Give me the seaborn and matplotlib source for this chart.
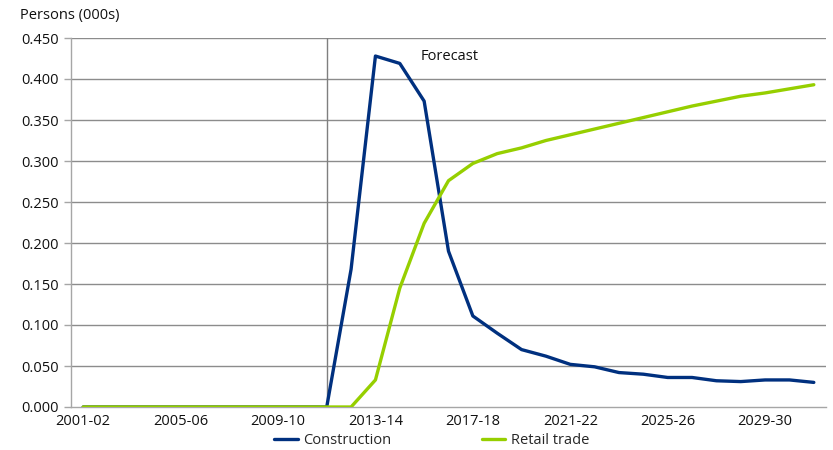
import matplotlib
matplotlib.use("Agg")
import matplotlib.pyplot as plt
import numpy as np
import pandas as pd
import seaborn as sns

# Financial years 2001-02 .. 2031-32
years = [f"{y}-{str(y + 1)[-2:]}" for y in range(2001, 2032)]

construction = [0, 0, 0, 0, 0, 0, 0, 0, 0, 0, 0,
                0.168, 0.428, 0.419, 0.373, 0.190, 0.111, 0.090, 0.070, 0.062,
                0.052, 0.049, 0.042, 0.040, 0.036, 0.036, 0.032, 0.031, 0.033,
                0.033, 0.030]

retail_trade = [0, 0, 0, 0, 0, 0, 0, 0, 0, 0, 0,
                0, 0.033, 0.145, 0.224, 0.276, 0.297, 0.309, 0.316, 0.325,
                0.332, 0.339, 0.346, 0.353, 0.360, 0.367, 0.373, 0.379, 0.383,
                0.388, 0.393]

forecast_start = "2011-12"
y_ticks = [0.0, 0.05, 0.10, 0.15, 0.20, 0.25, 0.30, 0.35, 0.40, 0.45]

sns.set_theme(style="white")
plt.rcParams["font.family"] = ["Open Sans", "DejaVu Sans"]

idx = np.arange(len(years))
df = pd.DataFrame({
    "idx": np.concatenate([idx, idx]),
    "value": construction + retail_trade,
    "series": ["Construction"] * len(years) + ["Retail trade"] * len(years),
})

fig = plt.figure(figsize=(8.33, 4.5), dpi=100)
ax = fig.add_axes([71 / 833, 1 - 407 / 450, (826 - 71) / 833, (407 - 38) / 450])

grid_c = "#8c8c8c"
for yv in y_ticks[1:]:
    ax.axhline(yv, color=grid_c, lw=1.0, zorder=0)

ax.axvline(years.index(forecast_start), color="#7f7f7f", lw=1.0, zorder=1)

sns.lineplot(data=df, x="idx", y="value", hue="series",
             palette={"Construction": "#00307f", "Retail trade": "#96cf00"},
             linewidth=2.4, ax=ax, zorder=3)

fs = 10.5
ax.set_xlim(-0.5, len(years) - 0.5)
ax.set_ylim(0, 0.45)
ax.set_yticks(y_ticks)
ax.set_yticklabels([f"{v:.3f}" for v in y_ticks], fontsize=fs, color="#111111")

# category boundaries carry the tick marks, labels sit at every fourth year
ax.set_xticks(np.arange(len(years) + 1) - 0.5)
ax.set_xticklabels([])
ax.tick_params(axis="x", which="major", direction="out", length=5,
               color="#a6a6a6", width=1)
lab_idx = idx[::4]
ax.set_xticks(lab_idx, minor=True)
ax.set_xticklabels([years[i] for i in lab_idx], minor=True, fontsize=fs,
                   color="#111111")
ax.tick_params(axis="x", which="minor", length=0, pad=5)
ax.tick_params(axis="y", direction="out", length=5, color="#a6a6a6",
               width=1, left=True, pad=4)

ax.set_xlabel("")
ax.set_ylabel("")
for s in ["top", "right"]:
    ax.spines[s].set_visible(False)
for s in ["left", "bottom"]:
    ax.spines[s].set_color("#a6a6a6")
    ax.spines[s].set_linewidth(1.0)

ax.text(13.85, 0.428, "Forecast", fontsize=fs, color="#111111", va="center")
fig.text(20 / 833, 1 - 15 / 450, "Persons (000s)", fontsize=fs,
         va="center", ha="left", color="#111111")

ax.legend(loc="center", bbox_to_anchor=(0.478, -0.092), ncol=2, frameon=False,
          fontsize=fs, handlelength=1.6, handletextpad=0.4, columnspacing=6.2,
          borderaxespad=0, borderpad=0)

fig.savefig("out.png", dpi=100)
